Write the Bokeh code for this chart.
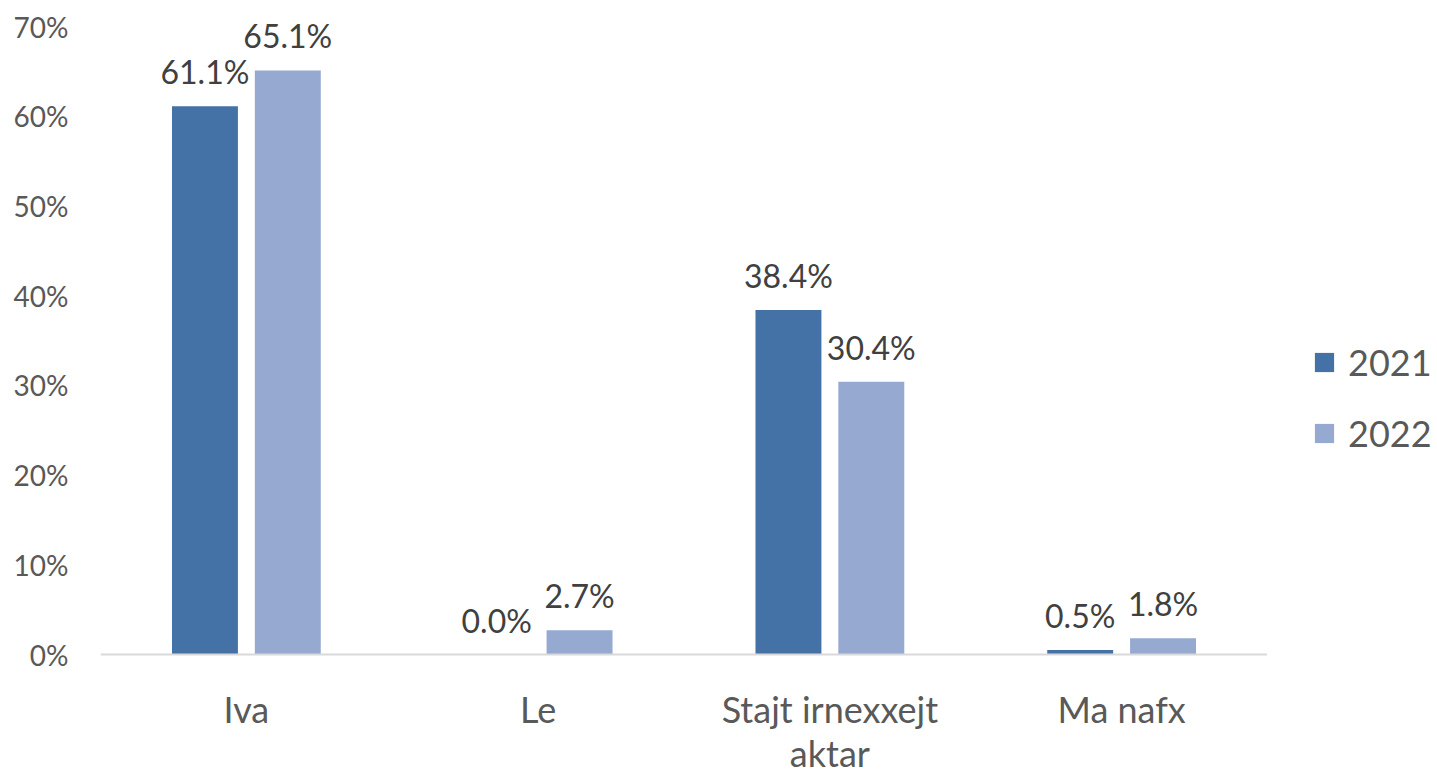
from bokeh.plotting import figure
from bokeh.layouts import row
from bokeh.models import (ColumnDataSource, FactorRange, FixedTicker, NumeralTickFormatter,
                          LabelSet, Legend, LegendItem, Span)
from bokeh.core.properties import value
from bokeh.transform import dodge
from bokeh.embed import file_html
from bokeh.resources import INLINE

categories = ["Iva", "Le", "Stajt irnexxejt aktar", "Ma nafx"]
category_line1 = ["Iva", "Le", "Stajt irnexxejt", "Ma nafx"]
category_line2 = ["", "", "aktar", ""]
series_names = ["2021", "2022"]
values_2021 = [0.611, 0.000, 0.384, 0.005]
values_2022 = [0.651, 0.027, 0.304, 0.018]
y_ticks = [0.0, 0.1, 0.2, 0.3, 0.4, 0.5, 0.6, 0.7]

colors = ["#4472A6", "#95A9D1"]
FONT = "Lato"
TEXT_GRAY = "#595959"

src = ColumnDataSource(dict(
    cat=categories,
    cat1=category_line1,
    cat2=category_line2,
    v2021=values_2021,
    v2022=values_2022,
    l2021=[f"{v*100:.1f}%" for v in values_2021],
    l2022=[f"{v*100:.1f}%" for v in values_2022],
))

# frame fills the full height: 0.7 sits 26 px below the top, 0 sits 123 px above the bottom
scale = 0.7 / 628          # value per pixel
y_top = 0.7 + 26 * scale
y_bottom = -123 * scale

p = figure(x_range=FactorRange(*categories, range_padding=0, factor_padding=0),
           y_range=(y_bottom, y_top), frame_width=1167, frame_height=777,
           output_backend="svg", toolbar_location=None,
           min_border_left=100, min_border_right=0, min_border_top=0, min_border_bottom=0)
p.outline_line_color = None
p.grid.grid_line_color = None
p.background_fill_color = "white"

off = 0.142
bw = 0.226
r1 = p.vbar(x=dodge("cat", -off, range=p.x_range), top="v2021", width=bw, source=src,
            fill_color=colors[0], line_color=None)
r2 = p.vbar(x=dodge("cat", off, range=p.x_range), top="v2022", width=bw, source=src,
            fill_color=colors[1], line_color=None)

p.add_layout(Span(location=0, dimension="width", line_color="#D9D9D9", line_width=2))

for col, d in (("2021", -off), ("2022", off)):
    p.add_layout(LabelSet(x=dodge("cat", d, range=p.x_range), y="v" + col, text="l" + col,
                          source=src, text_align="center", text_baseline="bottom",
                          y_offset=15, text_font=value(FONT), text_font_size="32px",
                          text_color="#404040"))

# category names under the baseline (two centred lines)
for col, yoff in (("cat1", -32), ("cat2", -76)):
    p.add_layout(LabelSet(x="cat", y=0, text=col, source=src, text_align="center",
                          text_baseline="top", y_offset=yoff, text_font=value(FONT),
                          text_font_size="36px", text_color=TEXT_GRAY))

p.xaxis.visible = False

# y axis
p.yaxis.ticker = FixedTicker(ticks=y_ticks)
p.yaxis.formatter = NumeralTickFormatter(format="0%")
p.yaxis.axis_line_color = None
p.yaxis.major_tick_line_color = None
p.yaxis.minor_tick_line_color = None
p.yaxis.major_tick_out = 0
p.yaxis.major_tick_in = 0
p.yaxis.minor_tick_out = 0
p.yaxis.major_label_standoff = 32
p.yaxis.major_label_text_font = FONT
p.yaxis.major_label_text_font_size = "28px"
p.yaxis.major_label_text_color = TEXT_GRAY

# legend panel on the right (zero-height proxy bars only carry the legend swatches)
pl = figure(width=170, height=777, output_backend="svg", toolbar_location=None,
            min_border=0, x_range=(0, 1), y_range=(0, 1))
pl.axis.visible = False
pl.grid.grid_line_color = None
pl.outline_line_color = None
proxy = ColumnDataSource(dict(x=[0], top=[0]))
lr1 = pl.vbar(x="x", top="top", width=0, source=proxy, fill_color=colors[0], line_color=None)
lr2 = pl.vbar(x="x", top="top", width=0, source=proxy, fill_color=colors[1], line_color=None)
legend = Legend(items=[LegendItem(label=series_names[0], renderers=[lr1]),
                       LegendItem(label=series_names[1], renderers=[lr2])],
                location=(45, 322), orientation="vertical",
                glyph_width=24, glyph_height=24, label_standoff=12, spacing=27,
                padding=0, margin=0, border_line_color=None, background_fill_alpha=0,
                label_text_font=FONT, label_text_font_size="36px",
                label_text_color=TEXT_GRAY)
pl.add_layout(legend)

layout = row(p, pl)
open("out.html", "w").write(file_html(layout, INLINE))
